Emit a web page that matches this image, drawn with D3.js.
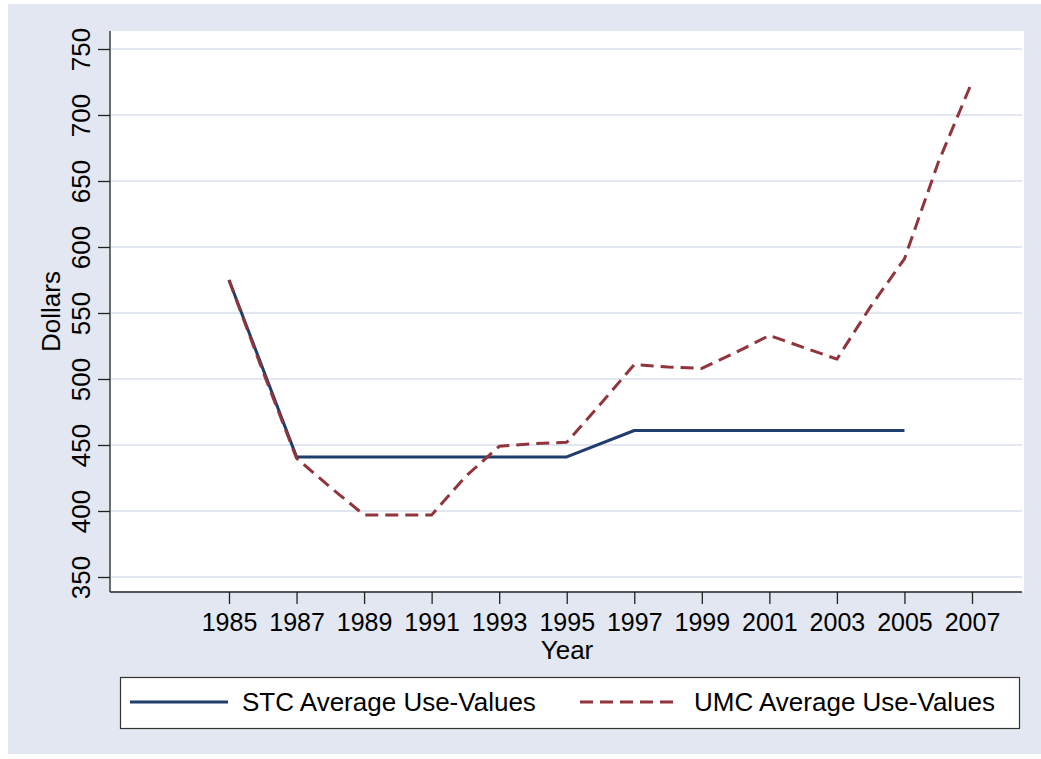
<!DOCTYPE html>
<html>
<head>
<meta charset="utf-8">
<script src="https://cdn.jsdelivr.net/npm/d3@7"></script>
<style>
  html, body { margin: 0; padding: 0; background: #fff; }
  svg { display: block; font-family: Arial, "Liberation Sans", sans-serif; }
</style>
</head>
<body>
<div class="chart"></div>
<script>
// data
const stcYears = [1985, 1987, 1989, 1991, 1993, 1995, 1997, 1999, 2001, 2003, 2005];
const stcValues = [575, 441, 441, 441, 441, 441, 461, 461, 461, 461, 461];

const umcYears = [1985, 1986, 1987, 1988, 1989, 1990, 1991, 1992, 1993, 1994, 1995, 1996,
                  1997, 1998, 1999, 2000, 2001, 2002, 2003, 2004, 2005, 2006, 2007];
const umcValues = [575, 506, 440, 418, 397, 397, 397, 426, 449, 451, 452, 481,
                   511, 509, 508, 520, 533, 524, 515, 555, 591, 664, 725];

const xTicks = [1985, 1987, 1989, 1991, 1993, 1995, 1997, 1999, 2001, 2003, 2005, 2007];
const yTicks = [350, 400, 450, 500, 550, 600, 650, 700, 750];

const seriesNames = ["STC Average Use-Values", "UMC Average Use-Values"];
const seriesColors = ["#1f3d6d", "#90353b"];

const dims = {
    width: 1041,
    height: 759,
    plot: {left: 110, right: 1024, top: 31, bottom: 592}
};

const svg = d3.select('.chart').append('svg')
    .attr('width', dims.width)
    .attr('height', dims.height);

// outer panel
svg.append('rect')
    .attr('x', 8).attr('y', 4)
    .attr('width', dims.width - 8).attr('height', 750)
    .attr('fill', '#e2e7f1');

// plot region
svg.append('rect')
    .attr('x', dims.plot.left).attr('y', dims.plot.top)
    .attr('width', dims.plot.right - dims.plot.left)
    .attr('height', dims.plot.bottom - dims.plot.top)
    .attr('fill', '#fff');

const x = d3.scaleLinear().domain([1985, 2007]).range([229, 972]);
const y = d3.scaleLinear().domain([350, 750]).range([577, 49]);

// grid
svg.append('g')
    .selectAll('line')
    .data(yTicks)
    .join('line')
    .attr('x1', dims.plot.left + 1)
    .attr('x2', dims.plot.right - 2)
    .attr('y1', d => y(d))
    .attr('y2', d => y(d))
    .attr('stroke', '#e1e6f0')
    .attr('stroke-width', 2);

// y axis
svg.append('g')
    .attr('transform', `translate(${dims.plot.left},0)`)
    .call(d3.axisLeft(y).tickValues(yTicks).tickSize(12).tickSizeOuter(0))
    .call(g => g.select('.domain').attr('stroke', '#222').attr('stroke-width', 1.3)
        .attr('d', `M0,${dims.plot.top}V${dims.plot.bottom}`))
    .call(g => g.selectAll('.tick line').attr('stroke', '#222').attr('stroke-width', 1.3))
    .call(g => g.selectAll('.tick text')
        .attr('transform', 'rotate(-90)')
        .attr('x', 0)
        .attr('y', -20)
        .attr('dy', 0)
        .attr('text-anchor', 'middle')
        .attr('fill', '#000')
        .style('font', '26px Arial, "Liberation Sans", sans-serif'));

// x axis
svg.append('g')
    .attr('transform', `translate(0,${dims.plot.bottom})`)
    .call(d3.axisBottom(x).tickValues(xTicks).tickFormat(d3.format('d')).tickSize(12).tickSizeOuter(0))
    .call(g => g.select('.domain').attr('stroke', '#222').attr('stroke-width', 1.3)
        .attr('d', `M${dims.plot.left},0H${dims.plot.right - 2}`))
    .call(g => g.selectAll('.tick line').attr('stroke', '#222').attr('stroke-width', 1.3))
    .call(g => g.selectAll('.tick text')
        .attr('y', 39)
        .attr('dy', 0)
        .attr('fill', '#000')
        .style('font', '25px Arial, "Liberation Sans", sans-serif'));

// axis titles
svg.append('text')
    .attr('x', (dims.plot.left + dims.plot.right) / 2)
    .attr('y', 659)
    .attr('text-anchor', 'middle')
    .style('font-size', '26px')
    .text('Year');

svg.append('text')
    .attr('transform', `translate(60,${(dims.plot.top + dims.plot.bottom) / 2}) rotate(-90)`)
    .attr('text-anchor', 'middle')
    .style('font-size', '26px')
    .text('Dollars');

// lines
const line = d3.line().x(d => x(d[0])).y(d => y(d[1]));

svg.append('path')
    .attr('d', line(d3.zip(stcYears, stcValues)))
    .attr('fill', 'none')
    .attr('stroke', seriesColors[0])
    .attr('stroke-width', 3)
    .attr('stroke-linejoin', 'round');

svg.append('path')
    .attr('d', line(d3.zip(umcYears, umcValues)))
    .attr('fill', 'none')
    .attr('stroke', seriesColors[1])
    .attr('stroke-width', 3)
    .attr('stroke-dasharray', '13,7')
    .attr('stroke-linejoin', 'round');

// legend
const legend = svg.append('g');
legend.append('rect')
    .attr('x', 120.5).attr('y', 677.5)
    .attr('width', 899).attr('height', 51)
    .attr('fill', '#fff')
    .attr('stroke', '#333')
    .attr('stroke-width', 1.2);

const legendItems = [
    {x1: 130, x2: 228, tx: 242, dash: null},
    {x1: 580, x2: 679, tx: 694, dash: '13,7'}
];
legendItems.forEach((it, i) => {
    legend.append('line')
        .attr('x1', it.x1).attr('x2', it.x2)
        .attr('y1', 702).attr('y2', 702)
        .attr('stroke', seriesColors[i])
        .attr('stroke-width', 3)
        .attr('stroke-dasharray', it.dash);
    legend.append('text')
        .attr('x', it.tx).attr('y', 711)
        .style('font-size', '26px')
        .text(seriesNames[i]);
});
</script>
</body>
</html>
